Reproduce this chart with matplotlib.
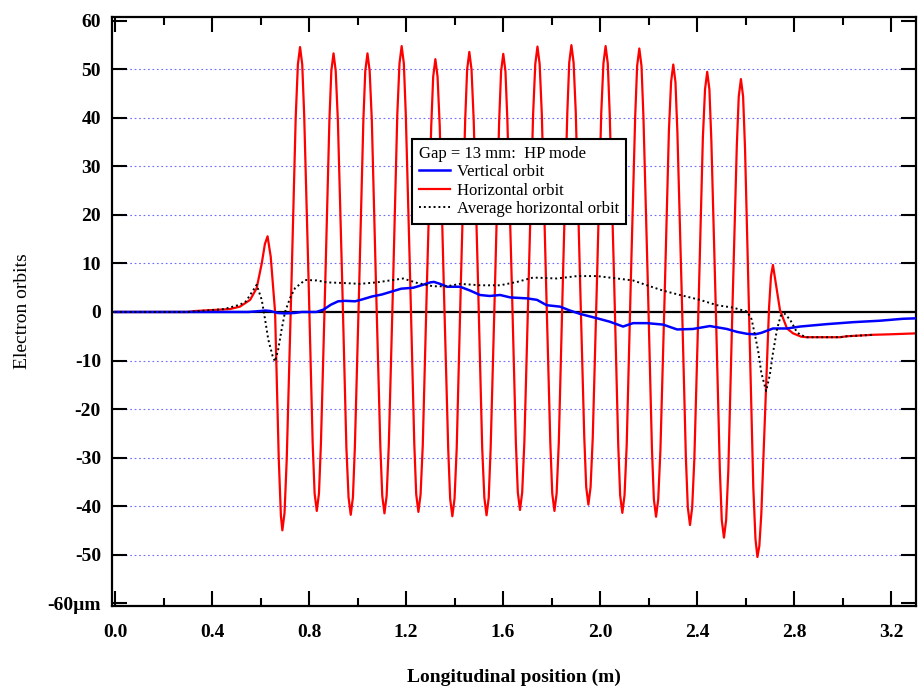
import matplotlib
matplotlib.use("Agg")
import matplotlib.pyplot as plt
from matplotlib.ticker import FixedLocator, FixedFormatter, MultipleLocator

plt.rcParams['font.family'] = ['Liberation Serif', 'DejaVu Serif']

# Horizontal orbit (red), position in m / orbit in um
horiz_x = [0.000, 0.300, 0.330, 0.400, 0.474, 0.515, 0.557, 0.584, 0.605, 0.618,
           0.629, 0.642, 0.660, 0.675, 0.684, 0.690, 0.699,
           0.708, 0.727, 0.745, 0.754, 0.763, 0.772, 0.780, 0.798, 0.815, 0.823, 0.832, 0.841,
           0.849, 0.867, 0.884, 0.892, 0.901, 0.910, 0.919, 0.937, 0.954, 0.963, 0.972, 0.981,
           0.989, 1.007, 1.024, 1.032, 1.041, 1.050, 1.059, 1.076, 1.094, 1.102, 1.111, 1.120,
           1.129, 1.147, 1.164, 1.173, 1.182, 1.191, 1.199, 1.217, 1.234, 1.242, 1.251, 1.260,
           1.269, 1.286, 1.304, 1.312, 1.321, 1.330, 1.339, 1.356, 1.374, 1.382, 1.391, 1.400,
           1.409, 1.426, 1.444, 1.452, 1.461, 1.470, 1.479, 1.497, 1.514, 1.523, 1.532, 1.541,
           1.549, 1.567, 1.584, 1.592, 1.601, 1.610, 1.618, 1.636, 1.653, 1.661, 1.670, 1.679,
           1.688, 1.706, 1.724, 1.733, 1.742, 1.751, 1.760, 1.777, 1.795, 1.803, 1.812, 1.821,
           1.830, 1.847, 1.865, 1.873, 1.882, 1.891, 1.900, 1.917, 1.935, 1.943, 1.952, 1.961,
           1.970, 1.988, 2.005, 2.014, 2.023, 2.032, 2.040, 2.058, 2.075, 2.083, 2.092, 2.101,
           2.110, 2.127, 2.145, 2.153, 2.162, 2.171, 2.179, 2.197, 2.214, 2.222, 2.231, 2.240,
           2.249, 2.267, 2.284, 2.293, 2.302, 2.311, 2.319, 2.337, 2.354, 2.362, 2.371, 2.380,
           2.389, 2.407, 2.424, 2.433, 2.442, 2.451, 2.459, 2.477, 2.494, 2.502, 2.511, 2.520,
           2.529, 2.546, 2.564, 2.572, 2.581, 2.590, 2.598, 2.615, 2.632, 2.641, 2.649, 2.657,
           2.665, 2.681, 2.697, 2.705, 2.713, 2.726, 2.742, 2.771, 2.796,
           2.830, 2.854, 2.990, 3.019, 3.126, 3.196, 3.307]
horiz_y = [0.0, 0.0, 0.2, 0.4, 0.6, 1.1, 2.5, 4.9, 10.0, 14.0,
           15.6, 11.4, 0.0, -30.0, -42.0, -45.0, -41.4,
           -30.4, 4.8, 40.0, 51.0, 54.6, 51.0, 40.6, 6.8, -27.0, -37.4, -41.0, -37.4,
           -27.2, 6.2, 39.5, 49.7, 53.3, 49.7, 39.4, 5.8, -27.9, -38.2, -41.8, -38.2,
           -27.9, 5.8, 39.4, 49.7, 53.3, 49.7, 39.4, 5.9, -27.6, -37.9, -41.5, -37.9,
           -27.4, 6.7, 40.7, 51.2, 54.8, 51.2, 40.7, 6.8, -27.1, -37.6, -41.2, -37.6,
           -27.5, 5.5, 38.4, 48.5, 52.1, 48.5, 38.3, 5.0, -28.3, -38.5, -42.1, -38.5,
           -28.1, 5.8, 39.6, 50.0, 53.6, 50.0, 39.6, 5.9, -27.9, -38.3, -41.9, -38.3,
           -28.0, 5.7, 39.3, 49.6, 53.2, 49.6, 39.4, 6.2, -27.0, -37.2, -40.8, -37.2,
           -26.8, 7.0, 40.7, 51.1, 54.7, 51.1, 40.7, 6.9, -27.0, -37.4, -41.0, -37.4,
           -26.9, 7.0, 40.9, 51.4, 55.0, 51.4, 41.1, 7.7, -25.8, -36.1, -39.7, -36.1,
           -25.9, 7.6, 41.0, 51.2, 54.8, 51.2, 40.7, 6.7, -27.3, -37.8, -41.4, -37.8,
           -27.4, 6.5, 40.3, 50.7, 54.3, 50.7, 40.2, 6.1, -28.1, -38.6, -42.2, -38.6,
           -28.5, 4.4, 37.3, 47.4, 51.0, 47.4, 37.1, 3.6, -30.0, -40.3, -43.9, -40.3,
           -30.2, 2.8, 35.8, 45.9, 49.5, 45.9, 35.4, 1.5, -32.4, -42.9, -46.5, -42.9,
           -32.7, 0.8, 34.2, 44.4, 48.0, 44.4, 33.6, -1.3, -36.1, -46.8, -50.5, -48.2,
           -41.7, -20.4, 0.9, 7.4, 9.7, 5.5, 0.4, -3.4, -4.4,
           -5.1, -5.2, -5.2, -5.0, -4.7, -4.6, -4.4]

# Vertical orbit (blue)
vert_x = [0.00, 0.55, 0.60, 0.62, 0.64, 0.67, 0.70, 0.74, 0.77, 0.83,
          0.86, 0.89, 0.92, 0.95, 0.99, 1.02, 1.06, 1.10, 1.14, 1.18,
          1.23, 1.27, 1.30, 1.315, 1.34, 1.37, 1.40, 1.423, 1.465, 1.505,
          1.545, 1.588, 1.63, 1.70, 1.74, 1.78, 1.835, 1.876, 1.918, 1.988,
          2.04, 2.095, 2.136, 2.194, 2.26, 2.318, 2.383, 2.453, 2.523, 2.565,
          2.606, 2.64, 2.665, 2.713, 2.771, 2.825, 2.936, 3.043, 3.154, 3.249, 3.307]
vert_y = [0.0, 0.0, 0.2, 0.3, 0.2, -0.2, -0.3, -0.2, 0.0, 0.0,
          0.5, 1.5, 2.2, 2.3, 2.2, 2.6, 3.2, 3.6, 4.2, 4.8,
          5.0, 5.6, 6.1, 6.2, 5.8, 5.2, 5.2, 5.2, 4.4, 3.5,
          3.3, 3.5, 3.0, 2.8, 2.5, 1.4, 1.1, 0.3, -0.4, -1.3,
          -2.0, -3.0, -2.3, -2.3, -2.6, -3.6, -3.5, -2.9, -3.5, -4.1,
          -4.5, -4.6, -4.3, -3.4, -3.4, -3.0, -2.5, -2.1, -1.8, -1.4, -1.3]

# Average horizontal orbit (black dotted)
avg_x = [0.00, 0.30, 0.35, 0.45, 0.515, 0.54, 0.557, 0.584, 0.605, 0.619,
         0.632, 0.650, 0.660, 0.673, 0.687, 0.701, 0.722, 0.742, 0.784, 0.832,
         0.873, 0.928, 1.010, 1.079, 1.188, 1.245, 1.311, 1.369, 1.423, 1.505,
         1.588, 1.658, 1.724, 1.823, 1.905, 1.988, 2.054, 2.136, 2.194, 2.260,
         2.330, 2.412, 2.482, 2.548, 2.606, 2.625, 2.640, 2.652, 2.665, 2.685,
         2.700, 2.713, 2.730, 2.745, 2.760, 2.784, 2.810, 2.825, 2.854, 2.990,
         3.020, 3.126]
avg_y = [0.0, 0.0, 0.2, 0.6, 1.5, 2.2, 3.5, 5.6, 2.5, -1.6,
         -5.7, -9.1, -10.2, -7.7, -3.6, 0.0, 2.9, 4.9, 6.6, 6.5,
         6.1, 6.0, 5.8, 6.1, 6.9, 6.0, 5.3, 5.3, 5.8, 5.5,
         5.5, 6.2, 7.1, 6.9, 7.4, 7.4, 7.0, 6.5, 5.5, 4.4,
         3.5, 2.5, 1.4, 0.9, 0.1, -1.5, -5.0, -8.0, -12.5, -16.3,
         -13.0, -8.5, -3.5, -0.8, -0.3, -1.6, -4.0, -4.7, -5.2, -5.2,
         -5.0, -4.7]

x_ticks = [0.0, 0.4, 0.8, 1.2, 1.6, 2.0, 2.4, 2.8, 3.2]
y_ticks = [-60, -50, -40, -30, -20, -10, 0, 10, 20, 30, 40, 50, 60]
y_labels = ['-60\u00b5m', '-50', '-40', '-30', '-20', '-10', '0',
            '10', '20', '30', '40', '50', '60']
grid_levels = [-50, -40, -30, -20, -10, 10, 20, 30, 40, 50]

fig = plt.figure(figsize=(9.22, 6.9), dpi=100)
ax = fig.add_axes([0.1215, 0.1217, 0.872, 0.8537])

for g in grid_levels:
    ax.axhline(g, color='#6b6bff', lw=0.8, ls=(0, (1.5, 2.5)), zorder=0)
ax.axhline(0, color='black', lw=1.6, zorder=1)

ax.plot(horiz_x, horiz_y, color='#ff0000', lw=1.6, label='Horizontal orbit', zorder=2)
ax.plot(vert_x, vert_y, color='#0000ff', lw=1.8, label='Vertical orbit', zorder=3)
ax.plot(avg_x, avg_y, color='black', lw=1.4, ls=(0, (1, 1.5)),
        label='Average horizontal orbit', zorder=4)

ax.set_xlim(-0.0124, 3.303)
ax.set_ylim(-60.6, 60.8)

ax.xaxis.set_major_locator(FixedLocator(x_ticks))
ax.xaxis.set_minor_locator(MultipleLocator(0.2))
ax.set_xticklabels(['%.1f' % v for v in x_ticks])
ax.yaxis.set_major_locator(FixedLocator(y_ticks))
ax.yaxis.set_major_formatter(FixedFormatter(y_labels))

ax.tick_params(which='both', direction='in', top=True, right=True, width=1.5)
ax.tick_params(which='major', length=11)
ax.tick_params(which='minor', length=6)
ax.tick_params(axis='x', which='major', pad=13)
ax.tick_params(axis='y', which='major', pad=8)
for lab in ax.get_xticklabels() + ax.get_yticklabels():
    lab.set_fontsize(14)
    lab.set_fontweight('bold')
for sp in ax.spines.values():
    sp.set_linewidth(1.6)

ax.set_xlabel('Longitudinal position (m)', fontsize=14, fontweight='bold', labelpad=20)
ax.set_ylabel('Electron orbits', fontsize=14, labelpad=12)

h, l = ax.get_legend_handles_labels()
order = [1, 0, 2]
leg = ax.legend([h[i] for i in order], [l[i] for i in order],
                title='Gap = 13 mm:  HP mode', alignment='left',
                loc='upper left', bbox_to_anchor=(412 / 922, 1 - 139 / 690),
                bbox_transform=fig.transFigure, borderaxespad=0,
                fontsize=12, title_fontsize=12, frameon=True, fancybox=False,
                framealpha=1, edgecolor='black', handlelength=1.9,
                handletextpad=0.4, labelspacing=0.15, borderpad=0.4)
leg.get_frame().set_linewidth(1.5)

fig.savefig('out.png', dpi=100)
